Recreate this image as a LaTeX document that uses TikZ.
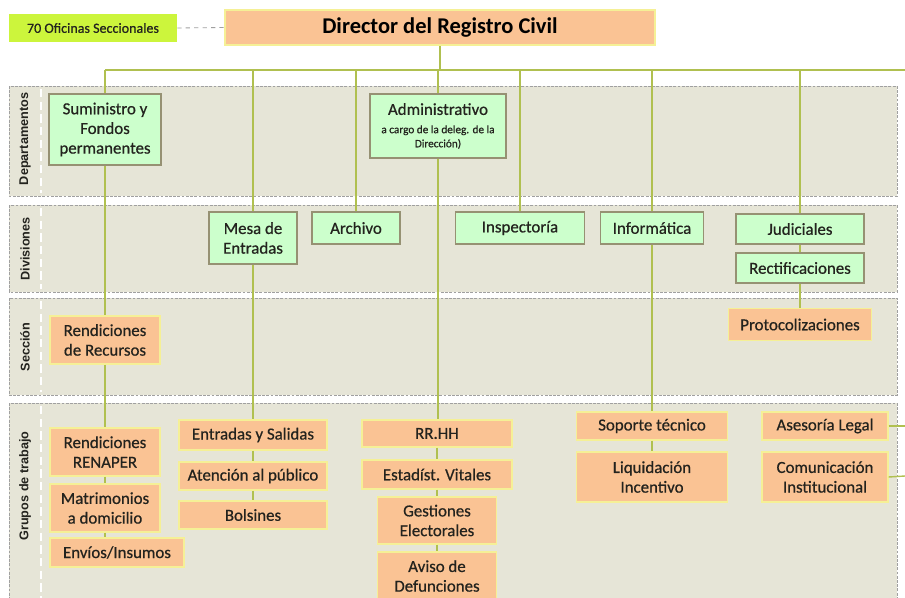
\documentclass[tikz,border=0pt]{standalone}
\usepackage{fontspec}
\setmainfont{Carlito}
\newfontfamily\boxfont[FakeBold=0.6]{Carlito}
\newfontfamily\bandfont{Liberation Sans}
\usepackage{tikz}

\definecolor{bandfill}{RGB}{230,229,215}
\definecolor{bandedge}{RGB}{160,160,160}
\definecolor{depgreen}{RGB}{204,255,204}
\definecolor{depedge}{RGB}{150,145,115}
\definecolor{grppeach}{RGB}{250,195,148}
\definecolor{grpedge}{RGB}{245,240,150}
\definecolor{limefill}{RGB}{204,245,60}
\definecolor{linkol}{RGB}{176,192,80}
\definecolor{txt}{RGB}{35,35,30}

\begin{document}
\begin{tikzpicture}[x=0.025cm,y=-0.025cm,
	band/.style={fill=bandfill,draw=bandedge,dash pattern=on 2pt off 1pt,line width=0.6pt},
	sep/.style={draw=white,dash pattern=on 6pt off 3pt,line width=1.5pt},
	bandlabel/.style={rotate=90,font=\bandfont\bfseries\fontsize{9}{10}\selectfont,text=txt},
	link/.style={draw=linkol,line width=1pt},
	depbox/.style 2 args={draw=depedge,fill=depgreen,line width=0.8pt,inner sep=0pt,align=center,text=txt,
		font=\boxfont\fontsize{12}{14}\selectfont,minimum width=#1*0.025cm,minimum height=#2*0.025cm},
	grpbox/.style 2 args={draw=grpedge,fill=grppeach,line width=0.8pt,inner sep=0pt,align=center,text=txt,
		font=\boxfont\fontsize{12}{14}\selectfont,minimum width=#1*0.025cm,minimum height=#2*0.025cm}]
\useasboundingbox (0,0) rectangle (905,597);
\clip (0,0) rectangle (905,597);

% bands
\draw[band] (9,86) rectangle (897,196); % Departamentos
\draw[band] (9,205) rectangle (897,292); % Divisiones
\draw[band] (9,298) rectangle (897,395); % Seccion
\draw[band] (9,403) rectangle (897,610); % Grupos de trabajo
\foreach \t/\b in {86/196,205/292,298/395,403/610}
	\draw[sep] (41,\t+3) -- (41,\b-3);
\node[bandlabel] (lDep) at (25,139) {Departamentos};
\node[bandlabel] (lDiv) at (25,249) {Divisiones};
\node[bandlabel] (lSec) at (25,347) {Sección};
\node[bandlabel] (lGrp) at (25,486) {Grupos de trabajo};

% top
\node[fill=limefill,inner sep=0pt,minimum width=4.2cm,minimum height=0.7cm,text=txt,font=\boxfont\fontsize{10}{11}\selectfont] (ofi) at (93,28) {70 Oficinas Seccionales};
\node[grpbox={430}{35},line width=1.2pt,font=\bfseries\fontsize{16}{18}\selectfont,text=black] (dir) at (440,27.5) {Director del Registro Civil};
\draw[bandedge,dashed,line width=0.6pt] (ofi.east) -- (dir.west);

% Departamentos
\node[depbox={112}{71}] (sum) at (105,129.5) {Suministro y\\Fondos\\permanentes};
\node[depbox={136}{64}] (adm) at (438,126) {Administrativo\\[-1pt]{\fontsize{8}{10}\selectfont a cargo de la deleg. de la}\\[-4pt]{\fontsize{8}{10}\selectfont Dirección)}};

% Divisiones
\node[depbox={88}{52}] (mesa) at (253,238) {Mesa de\\Entradas};
\node[depbox={88}{32}] (arch) at (356,228) {Archivo};
\node[depbox={129}{32}] (insp) at (520,228) {Inspectoría};
\node[depbox={103}{32}] (info) at (652,228) {Informática};
\node[depbox={128}{30}] (jud) at (800,229) {Judiciales};
\node[depbox={128}{30}] (rect) at (800,268) {Rectificaciones};

% Seccion
\node[grpbox={110}{48}] (rrec) at (105,340) {Rendiciones\\de Recursos};
\node[grpbox={143}{32}] (prot) at (800,324.5) {Protocolizaciones};

% Grupos de trabajo
\node[grpbox={110}{48}] (renaper) at (105,452) {Rendiciones\\RENAPER};
\node[grpbox={110}{48}] (matri) at (105,508) {Matrimonios\\a domicilio};
\node[grpbox={134}{29}] (envios) at (117,552.5) {Envíos/Insumos};
\node[grpbox={148}{30}] (eys) at (253,435) {Entradas y Salidas};
\node[grpbox={148}{28}] (aten) at (253,476) {Atención al público};
\node[grpbox={148}{28}] (bols) at (253,515) {Bolsines};
\node[grpbox={150}{27}] (rrhh) at (437,433.5) {RR.HH};
\node[grpbox={150}{29}] (esta) at (437,474.5) {Estadíst. Vitales};
\node[grpbox={119}{47}] (gest) at (437,520.5) {Gestiones\\Electorales};
\node[grpbox={119}{48}] (aviso) at (437,576) {Aviso de\\Defunciones};
\node[grpbox={151}{28}] (sop) at (652,426) {Soporte técnico};
\node[grpbox={151}{50}] (liq) at (652,477) {Liquidación\\Incentivo};
\node[grpbox={126}{28}] (ases) at (825,426) {Asesoría Legal};
\node[grpbox={126}{50}] (com) at (825,477) {Comunicación\\Institucional};

% links
\coordinate (barL) at (105,70);
\coordinate (barC) at (440,70);
\coordinate (barR) at (905,70);
\coordinate (offA) at (905,426);
\coordinate (offB) at (905,476);
\draw[link] (dir.south) -- (barC);
\draw[link] (barL) -- (barR);
\foreach \n in {sum,mesa,arch,adm,insp,info,jud}
	\draw[link] (\n.north) -- (\n.north |- barC);
\foreach \a/\b in {sum/rrec,rrec/renaper,renaper/matri,matri/envios,mesa/eys,eys/aten,aten/bols,
	adm/rrhh,rrhh/esta,esta/gest,gest/aviso,info/sop,sop/liq,jud/rect,rect/prot}
	\draw[link] (\a.south) -- (\a.south |- \b.north);
\draw[link] (ases.east) -- (offA);
\draw[link] (com.east) -- (offB);
\end{tikzpicture}
\end{document}
